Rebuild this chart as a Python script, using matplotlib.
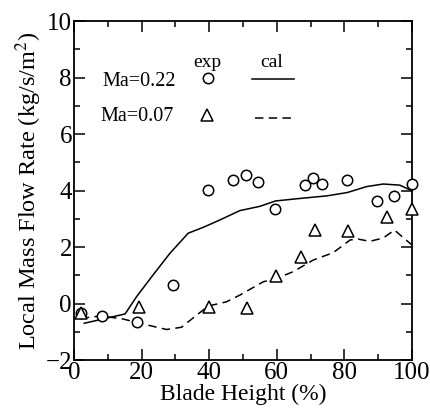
import matplotlib
matplotlib.use("Agg")
import matplotlib.pyplot as plt
from matplotlib.ticker import MultipleLocator

plt.rcParams['font.family'] = ['Liberation Serif', 'DejaVu Serif']
plt.rcParams['mathtext.fontset'] = 'stix'

# experimental points, Ma=0.22 (circles)
exp22_x = [2, 8.4, 18.7, 29.4, 39.5, 47.1, 50.8, 54.3, 59.6, 68.3, 70.8, 73.5, 80.9, 89.7, 94.8, 100]
exp22_y = [-0.34, -0.43, -0.67, 0.65, 4.02, 4.37, 4.54, 4.30, 3.36, 4.18, 4.43, 4.22, 4.37, 3.63, 3.81, 4.24]

# experimental points, Ma=0.07 (triangles)
exp07_x = [2, 19.2, 39.8, 51.1, 59.7, 67.2, 71.3, 81.0, 92.5, 100]
exp07_y = [-0.35, -0.13, -0.11, -0.17, 0.98, 1.63, 2.61, 2.57, 3.07, 3.33]

# calculation, Ma=0.22 (solid)
cal22_x = [3, 15.1, 18.5, 23, 28.4, 33.8, 38.3, 43.2, 49.1, 55, 59.6, 66.9, 74.8, 80.9, 86.6, 91.5, 96.4, 100]
cal22_y = [-0.70, -0.37, 0.24, 0.95, 1.78, 2.49, 2.70, 2.96, 3.29, 3.44, 3.63, 3.72, 3.81, 3.93, 4.14, 4.23, 4.19, 3.99]

# calculation, Ma=0.07 (dashed)
cal07_x = [2, 8, 14.6, 19.5, 27.4, 31.8, 36.3, 39.7, 45.1, 49.1, 56, 60, 64.9, 70.8, 76.7, 81.7, 84.1, 87.5, 91.5, 94.8, 100]
cal07_y = [-0.52, -0.44, -0.55, -0.70, -0.92, -0.84, -0.41, -0.09, 0.06, 0.30, 0.77, 0.89, 1.13, 1.54, 1.80, 2.25, 2.28, 2.20, 2.32, 2.60, 2.07]

fig = plt.figure(figsize=(4.31, 4.13), dpi=100)
ax = fig.add_axes([0.1717, 0.1283, 0.7842, 0.8208])

ax.plot(cal22_x, cal22_y, color='black', lw=1.1, clip_on=False)
ax.plot(cal07_x, cal07_y, color='black', lw=1.1, dashes=(5.5, 3.5), clip_on=False)
ax.plot(exp22_x, exp22_y, 'o', mfc='white', mec='black', mew=1.1, ms=7.5, clip_on=False, zorder=3)
ax.plot(exp07_x, exp07_y, '^', mfc='white', mec='black', mew=1.1, ms=8, clip_on=False, zorder=3)

# hand-made legend
ax.text(0.393, 0.879, 'exp', transform=ax.transAxes, ha='center', va='center', fontsize=14)
ax.text(0.586, 0.879, 'cal', transform=ax.transAxes, ha='center', va='center', fontsize=14)
ax.text(0.192, 0.822, 'Ma=0.22', transform=ax.transAxes, ha='center', va='center', fontsize=14.5)
ax.text(0.186, 0.717, 'Ma=0.07', transform=ax.transAxes, ha='center', va='center', fontsize=14.5)
ax.plot([0.396], [0.832], 'o', mfc='white', mec='black', mew=1.1, ms=7.5, transform=ax.transAxes)
ax.plot([0.393], [0.723], '^', mfc='white', mec='black', mew=1.1, ms=8, transform=ax.transAxes)
ax.plot([0.527, 0.651], [0.829, 0.829], color='black', lw=1.1, transform=ax.transAxes)
ax.plot([0.536, 0.648], [0.714, 0.714], color='black', lw=1.1, dashes=(5.5, 3.5), transform=ax.transAxes)

ax.set_xlim(0, 100)
ax.set_ylim(-2, 10)
ax.xaxis.set_major_locator(MultipleLocator(20))
ax.xaxis.set_minor_locator(MultipleLocator(10))
ax.yaxis.set_major_locator(MultipleLocator(2))
ax.yaxis.set_minor_locator(MultipleLocator(1))
ax.tick_params(which='both', direction='in', top=True, right=True, labelsize=18, width=1.1)
ax.tick_params(which='major', length=8, pad=1.5)
ax.tick_params(which='minor', length=4)
for s in ax.spines.values():
    s.set_linewidth(1.3)

ax.set_xlabel('Blade Height (%)', fontsize=17, labelpad=0)
ax.set_ylabel('Local Mass Flow Rate (kg/s/m$^2$)', fontsize=17.5, labelpad=1)

fig.savefig('out.png', dpi=100)
